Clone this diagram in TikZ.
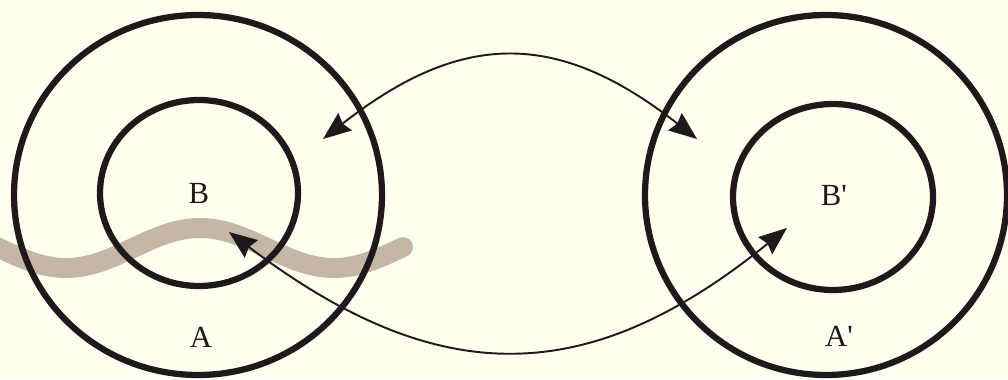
\documentclass[tikz,border=0pt]{standalone}
\usepackage{fontspec}
\setmainfont{Liberation Serif}
\usetikzlibrary{arrows.meta}
\definecolor{paper}{RGB}{255,255,240}
\definecolor{ink}{RGB}{30,26,27}
\definecolor{sand}{RGB}{196,183,166}
\begin{document}
\begin{tikzpicture}[x=0.02cm,y=-0.02cm,font=\fontsize{17.5}{20}\selectfont]
  \tikzset{
    ring/.style={draw=ink,line width=0.125cm},
    link/.style={draw=ink,line width=1.1pt,{Stealth[length=5.6mm,width=4.4mm,inset=0.6mm]}-{Stealth[length=5.6mm,width=4.4mm,inset=0.6mm]}},
    wave/.style={draw=sand,line width=0.4cm,line cap=round},
    lbl/.style={anchor=base,inner sep=0pt,text=ink}
  }
  \fill[paper] (0,0) rectangle (1008,379);
  \useasboundingbox (0,0) rectangle (1008,379);
  % wavy band behind the rings
  \draw[wave] plot[domain=-40:403,samples=80,smooth] (\x,{248-20*cos((\x-200)/268*360)});
  % left pair
  \draw[ring] (198,195) ellipse[x radius=184,y radius=180];
  \draw[ring] (199,193) ellipse[x radius=99,y radius=93];
  % right pair
  \draw[ring] (826,195) ellipse[x radius=181,y radius=180];
  \draw[ring] (833,197) ellipse[x radius=100,y radius=93];
  \node[lbl] (b)  at (199,203) {B};
  \node[lbl] (a)  at (201,347) {A};
  \node[lbl] (b2) at (834,205) {B\textquotesingle};
  \node[lbl] (a2) at (839,346) {A\textquotesingle};
  \coordinate (ptop1) at (323,139);
  \coordinate (ptop2) at (697,139);
  \coordinate (pbot1) at (229,232);
  \coordinate (pbot2) at (787,228);
  \draw[link] (ptop1) .. controls (462,30) and (558,30) .. (ptop2);
  \draw[link] (pbot1) .. controls (438,390) and (587,390) .. (pbot2);
\end{tikzpicture}
\end{document}
